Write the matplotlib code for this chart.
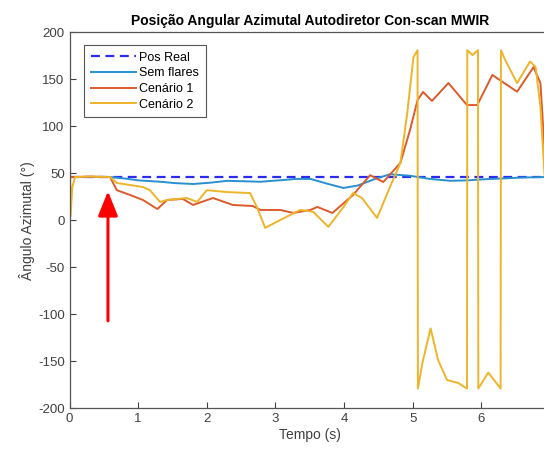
import matplotlib.pyplot as plt

plt.rcParams['font.family'] = ['Liberation Sans', 'DejaVu Sans']
plt.rcParams['axes.unicode_minus'] = False

# tempo (s) e angulos (graus)
t_real = [0, 7]
pos_real = [46, 46]

t_sem = [0, 0.59, 0.8, 1.0, 1.32, 1.55, 1.8, 2.05, 2.3, 2.55, 2.78, 3.05, 3.3,
         3.51, 3.75, 3.99, 4.2, 4.45, 4.67, 4.96, 5.25, 5.55, 5.8, 6.03, 6.3,
         6.6, 6.9, 7.0]
sem_flares = [46, 46, 44.5, 42.5, 41, 39.5, 38.6, 40, 42, 41.5, 41, 42.5, 44,
              44, 39, 34.4, 37, 44, 49, 47.4, 44, 42, 42.5, 43.6, 44.5,
              45.5, 46, 46]

t_c1 = [0, 0.3, 0.59, 0.69, 0.88, 1.07, 1.28, 1.42, 1.65, 1.8, 2.09, 2.38,
        2.67, 2.78, 3.07, 3.26, 3.51, 3.61, 3.83, 4.13, 4.38, 4.57, 4.82,
        4.96, 5.07, 5.15, 5.28, 5.52, 5.79, 5.94, 6.16, 6.52, 6.76, 6.86,
        6.92, 7.0]
cenario1 = [46, 46.5, 46, 32, 27, 21.6, 12, 21.6, 22.7, 16.3, 23.7, 16.3,
            15.2, 11, 11, 7.8, 11, 14.2, 7.8, 26.9, 48, 40.7, 61,
            96, 128, 136.5, 127, 146, 122.6, 122.6, 154.6, 136.8, 163, 146,
            75, 45]

t_c2 = [0, 0.015, 0.04, 0.08, 0.3, 0.59, 0.69, 1.07, 1.17, 1.32, 1.42, 1.71,
        1.86, 2.0, 2.3, 2.63, 2.73, 2.85, 3.07, 3.36, 3.55, 3.77, 3.99, 4.13,
        4.26, 4.48, 4.67, 4.82, 4.92, 5.01, 5.07,
        5.075, 5.14, 5.26, 5.37, 5.5, 5.66, 5.79,
        5.795, 5.87, 5.95,
        5.955, 6.1, 6.28,
        6.285, 6.35, 6.52, 6.71, 6.79, 6.86, 6.92, 7.0]
cenario2 = [130, 4, 35, 46, 46.5, 46, 39.7, 35.4, 32, 19.5, 21.6, 23.7,
            19.5, 32, 30, 29, 14, -8, 0.3, 11, 9, -7, 14, 29,
            23.7, 2.5, 35.7, 61, 114, 173.5, 181,
            -179, -152, -115, -149, -170, -173, -179,
            181, 175.7, 181,
            -179, -162, -179,
            181, 170, 146, 169, 163, 121, 48, 45]

yticks = [-200, -150, -100, -50, 0, 50, 100, 150, 200]
xticks = [0, 1, 2, 3, 4, 5, 6]

fig = plt.figure(figsize=(5.44, 4.53), dpi=100)
ax = fig.add_axes([0.1278, 0.0987, 0.8833, 0.830])

ax.plot(t_real, pos_real, '--', color='#2b2bf0', lw=1.6, dashes=(4, 2.5), label='Pos Real')
ax.plot(t_sem, sem_flares, color='#2a8fd0', lw=1.4, label='Sem flares')
ax.plot(t_c1, cenario1, color='#dd5a2c', lw=1.4, label='Cenário 1')
ax.plot(t_c2, cenario2, color='#eeb42a', lw=1.4, label='Cenário 2')

# seta vermelha indicando o inicio dos flares
ax.annotate('', xy=(0.56, 31), xytext=(0.56, -107),
            arrowprops=dict(arrowstyle='-|>,head_length=0.75,head_width=0.3',
                            color='#ff0000', lw=2.2,
                            mutation_scale=20, shrinkA=0, shrinkB=0))

ax.set_xlim(0, 7)
ax.set_ylim(-200, 200)
ax.set_xticks(xticks)
ax.set_yticks(yticks)
ax.tick_params(direction='in', length=4, colors='#404040', labelsize=9.5)
ax.spines['right'].set_visible(False)
for s in ax.spines.values():
    s.set_color('#555555')
    s.set_linewidth(0.9)

ax.set_title('Posição Angular Azimutal Autodiretor Con-scan MWIR',
             fontsize=10, fontweight='bold', pad=5)
ax.set_xlabel('Tempo (s)', fontsize=10, color='#404040', labelpad=2)
ax.set_ylabel('Ângulo Azimutal (°)', fontsize=10, color='#404040', labelpad=2)

leg = ax.legend(loc='upper left', fontsize=9, fancybox=False, framealpha=1,
                edgecolor='#555555', handlelength=3.6, borderpad=0.5,
                labelspacing=0.3, handletextpad=0.3,
                bbox_to_anchor=(0.018, 0.982))
leg.get_frame().set_linewidth(0.8)

plt.savefig('out.png', dpi=100)
